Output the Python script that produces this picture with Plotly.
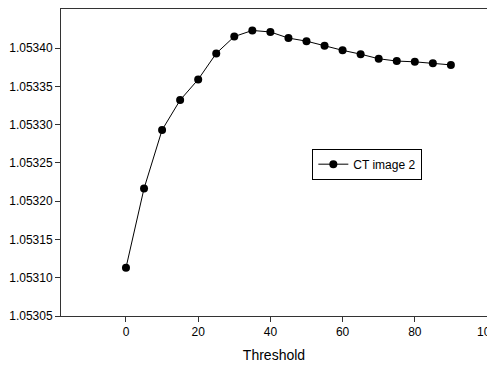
import plotly.graph_objects as go

thresholds = [0, 5, 10, 15, 20, 25, 30, 35, 40, 45, 50, 55, 60, 65, 70, 75, 80, 85, 90]
values = [1.053113, 1.0532165, 1.053293, 1.053332, 1.053359, 1.053393, 1.053415, 1.053423,
          1.053421, 1.053413, 1.053409, 1.053403, 1.053397, 1.053392, 1.053386, 1.053383,
          1.053382, 1.053380, 1.053378]
series_name = "CT image 2"
x_ticks = [0, 20, 40, 60, 80, 100]
y_ticks = [1.05305, 1.05310, 1.05315, 1.05320, 1.05325, 1.05330, 1.05335, 1.05340]

FONT = "Liberation Sans, Arial"

fig = go.Figure()
fig.add_trace(go.Scatter(
    x=thresholds, y=values, mode="lines+markers", name=series_name,
    line=dict(color="black", width=1),
    marker=dict(color="black", size=8),
    cliponaxis=False,
))

axis_common = dict(
    showgrid=False, zeroline=False, showline=True, linecolor="#333333", linewidth=1,
    mirror=True, ticks="outside", ticklen=5, tickcolor="#333333", automargin=False,
    ticklabeloverflow="allow",
    tickfont=dict(family=FONT, size=12, color="black"),
)
fig.update_xaxes(range=[-18, 100.0001], tickvals=x_ticks,
                 title=dict(text="Threshold", font=dict(family=FONT, size=14, color="black"), standoff=11),
                 **axis_common)
fig.update_yaxes(range=[1.05305, 1.053451], tickvals=y_ticks, tickformat=".5f", **axis_common)

# page body has an 8px margin, so the figure is placed at (8, 8) in the window
fig.update_layout(
    width=487, height=360,
    margin=dict(l=53, r=8, t=1, b=52),
    paper_bgcolor="white", plot_bgcolor="white",
    showlegend=True,
    legend=dict(x=0.59, y=0.545, xanchor="left", yanchor="top",
                bgcolor="white", bordercolor="black", borderwidth=1,
                font=dict(family=FONT, size=12, color="black")),
)
fig.write_html("out.html")
